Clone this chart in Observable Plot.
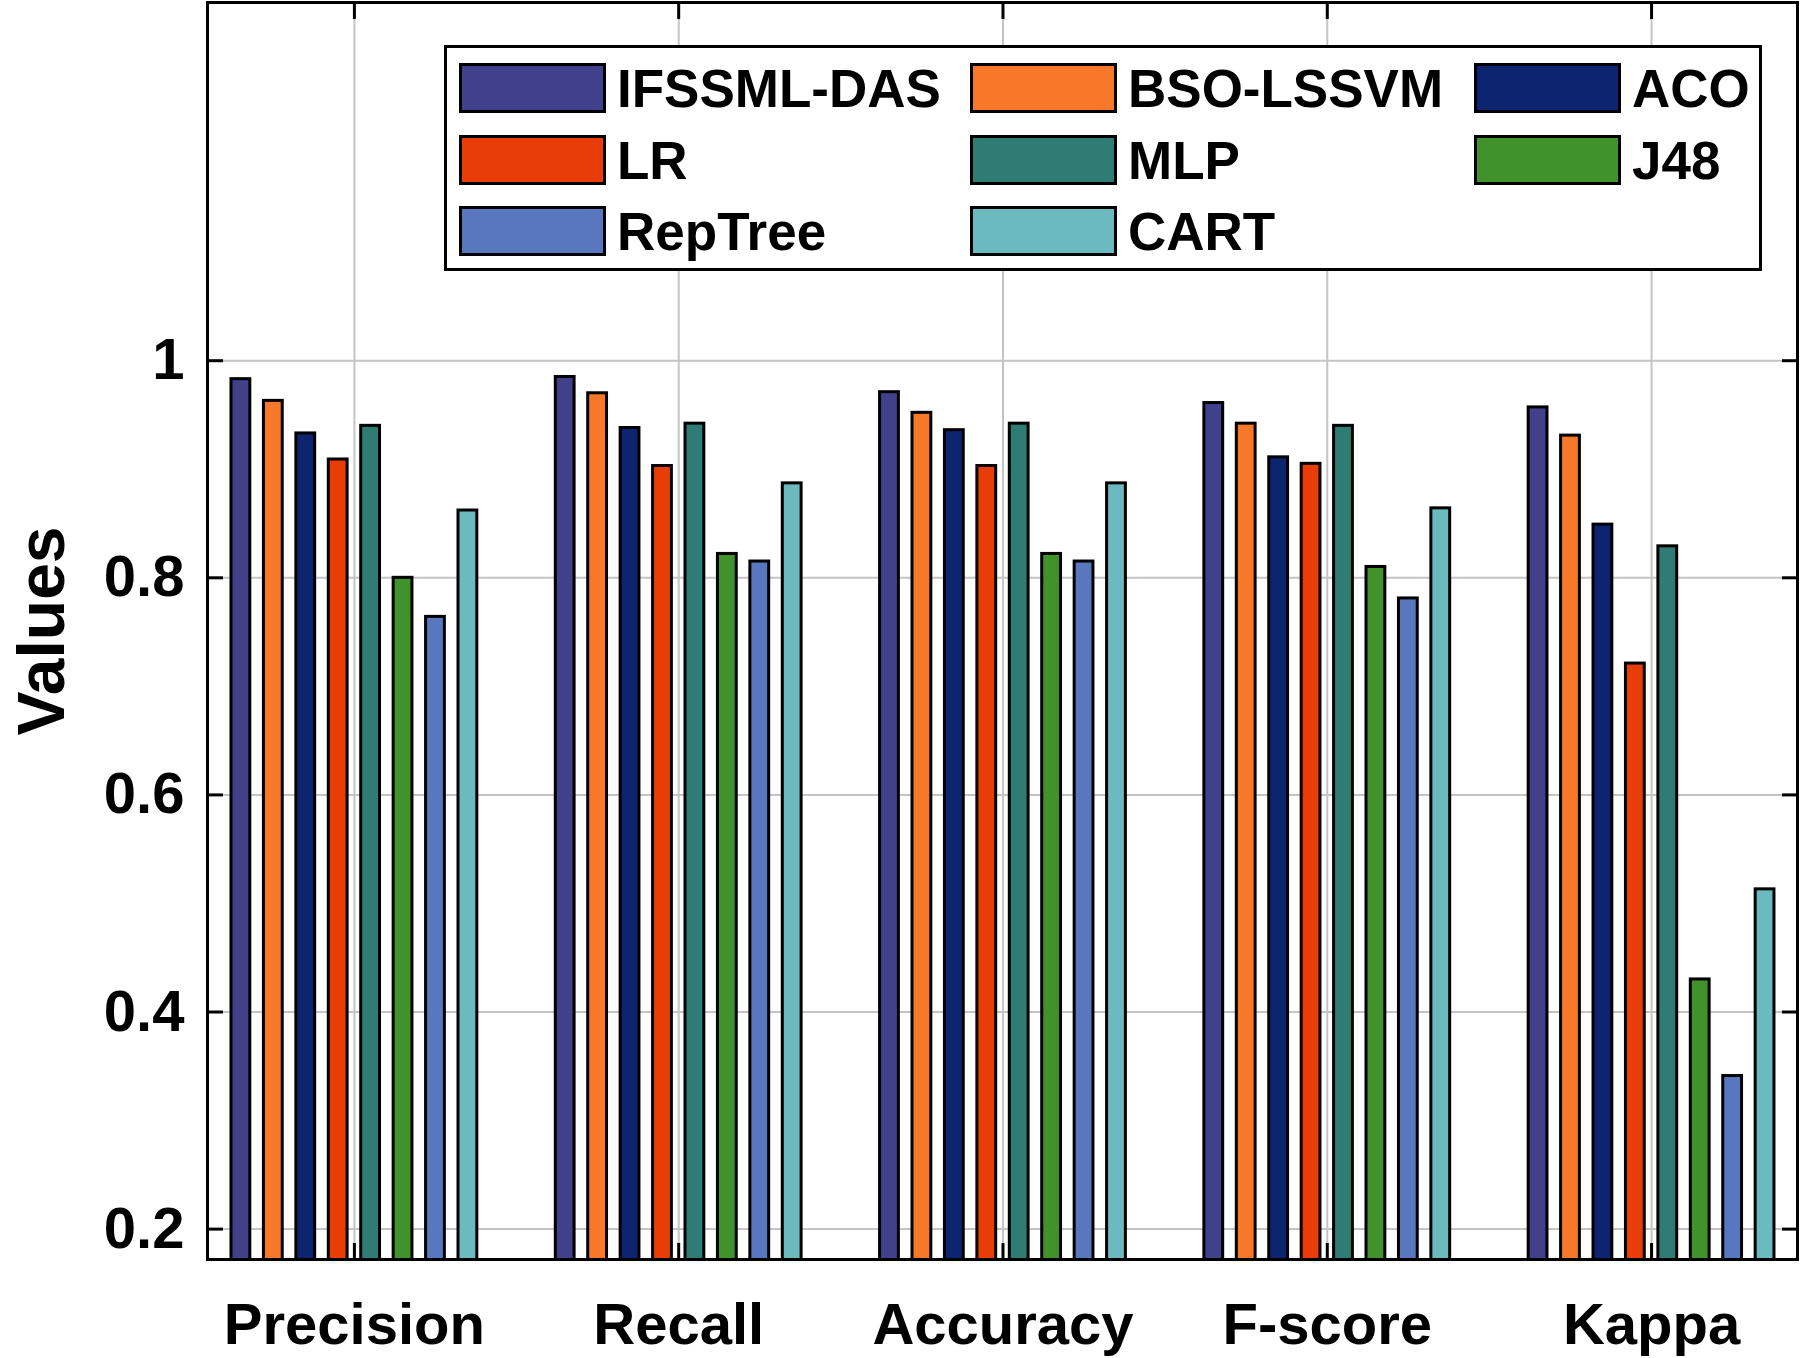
<!DOCTYPE html>
<html><head><meta charset="utf-8">
<script src="https://cdn.jsdelivr.net/npm/d3@7"></script>
<script src="https://cdn.jsdelivr.net/npm/@observablehq/plot@0.6"></script>
<style>
body{margin:0;background:#fff;font-family:"Liberation Sans",Arial,Helvetica,sans-serif;}
#wrap{position:relative;width:1800px;height:1358px;}
#legend{position:absolute;left:444px;top:45px;width:1312px;height:220px;border:3px solid #000;background:#fff;}
.item{position:absolute;display:flex;align-items:center;font-weight:bold;font-size:53px;color:#000;height:60px;}
.sw{width:141px;height:44px;border:3px solid #000;margin-right:11px;flex:none;}
</style></head>
<body><div id="wrap"></div>
<script>
const categories = ["Precision", "Recall", "Accuracy", "F-score", "Kappa"];
const methods = ["IFSSML-DAS", "BSO-LSSVM", "ACO", "LR", "MLP", "J48", "RepTree", "CART"];
const colors = ["#41418b", "#f77828", "#0d2470", "#e93d07", "#2e7c74", "#40922a", "#5877be", "#6bbac0"];

const ifssmlDas = [0.983, 0.985, 0.971, 0.961, 0.957];
const bsoLssvm  = [0.963, 0.970, 0.952, 0.942, 0.931];
const aco       = [0.933, 0.938, 0.936, 0.911, 0.849];
const lr        = [0.909, 0.903, 0.903, 0.905, 0.721];
const mlp       = [0.940, 0.942, 0.942, 0.940, 0.829];
const j48       = [0.800, 0.822, 0.822, 0.810, 0.430];
const repTree   = [0.764, 0.815, 0.815, 0.781, 0.341];
const cart      = [0.862, 0.887, 0.887, 0.864, 0.513];
const series = [ifssmlDas, bsoLssvm, aco, lr, mlp, j48, repTree, cart];

const yTicks = [0.2, 0.4, 0.6, 0.8, 1];

const groups = categories.map((c, i) => i + 1);
const data = [];
series.forEach((vals, s) => vals.forEach((v, g) => data.push({g: g + 1, s, method: methods[s], value: v})));

const step = 0.1, half = 0.029;
const xc = d => d.g + (d.s - (methods.length - 1) / 2) * step;

const chart = Plot.plot({
  width: 1800,
  height: 1358,
  marginLeft: 207,
  marginRight: 3,
  marginTop: 2,
  marginBottom: 99,
  style: {fontFamily: '"Liberation Sans", Arial, sans-serif', fontWeight: "bold", fontSize: "58px", color: "#000", background: "#fff"},
  x: {type: "linear", domain: [0.547, 5.45]},
  y: {domain: [0.172, 1.33]},
  color: {domain: methods, range: colors},
  marks: [
    Plot.gridY(yTicks, {stroke: "#c4c4c4", strokeOpacity: 1, strokeWidth: 2}),
    Plot.gridX(groups, {stroke: "#c4c4c4", strokeOpacity: 1, strokeWidth: 2}),
    Plot.rectY(data, {x1: d => xc(d) - half, x2: d => xc(d) + half, y: "value", fill: "method", stroke: "#000", strokeWidth: 3, clip: true}),
    Plot.axisY(yTicks, {anchor: "left", tickSize: 0, tickPadding: 23, fontSize: 58, tickFormat: d => String(d), label: null}),
    Plot.axisY(yTicks, {anchor: "left", tickSize: 0, text: null, fontSize: 66, label: "Values", labelArrow: "none", labelAnchor: "center", labelOffset: 190}),
    Plot.axisY(yTicks, {anchor: "left", tickSize: -16, text: null, label: null, strokeWidth: 3}),
    Plot.axisY(yTicks, {anchor: "right", tickSize: -16, text: null, label: null, strokeWidth: 3}),
    Plot.axisX(groups, {anchor: "bottom", tickSize: 0, tickPadding: 43, fontSize: 58, tickFormat: d => categories[d - 1], label: null}),
    Plot.axisX(groups, {anchor: "top", tickSize: -16, text: null, label: null, strokeWidth: 3}),
    Plot.axisX(groups, {anchor: "bottom", tickSize: -16, text: null, label: null, strokeWidth: 3}),
    Plot.frame({stroke: "#000", strokeWidth: 3})
  ]
});

const wrap = document.getElementById("wrap");
wrap.appendChild(chart);

const legend = document.createElement("div");
legend.id = "legend";
const colLeft = [12, 523, 1027];
const rowTop = [10, 82, 153];
methods.forEach((m, i) => {
  const item = document.createElement("div");
  item.className = "item";
  item.style.left = colLeft[i % 3] + "px";
  item.style.top = rowTop[Math.floor(i / 3)] + "px";
  const sw = document.createElement("div");
  sw.className = "sw";
  sw.style.background = colors[i];
  const t = document.createElement("span");
  t.textContent = m;
  item.appendChild(sw);
  item.appendChild(t);
  legend.appendChild(item);
});
wrap.appendChild(legend);
</script>
</body></html>
